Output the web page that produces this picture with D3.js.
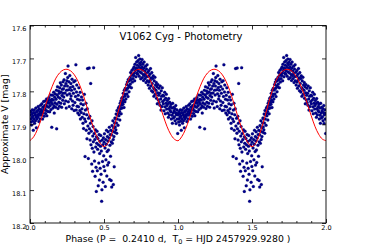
<!DOCTYPE html>
<html>
<head>
<meta charset="utf-8">
<script src="https://cdn.jsdelivr.net/npm/d3@7"></script>
<style>
html,body{margin:0;padding:0;background:#fff;}
svg{display:block;font-family:"DejaVu Sans",sans-serif;}
</style>
</head>
<body>
<svg id="chart" width="365" height="248"></svg>
<script>
// ---------- data ----------
const titleText = "V1062 Cyg - Photometry";
const yLabelText = "Approximate V [mag]";
const xMajorTicks = [0.0, 0.5, 1.0, 1.5, 2.0];
const xMinorTicks = [0.1,0.2,0.3,0.4,0.6,0.7,0.8,0.9,1.1,1.2,1.3,1.4,1.6,1.7,1.8,1.9];
const yMajorTicks = [17.6, 17.7, 17.8, 17.9, 18.0, 18.1, 18.2];
const phaseCopies = [0, 1];

// observed points, phase 0..1 : [phase, magnitude]
const observations = [
[0.002,17.872],[0.004,17.893],[0.006,17.861],[0.008,17.884],[0.010,17.902],[0.012,17.868],[0.014,17.879],[0.016,17.856],[0.018,17.891],[0.020,17.875],[0.022,17.918],[0.024,17.864],
[0.027,17.883],[0.029,17.857],[0.031,17.897],[0.033,17.871],[0.035,17.866],[0.037,17.889],[0.039,17.851],[0.041,17.878],[0.043,17.911],[0.045,17.862],[0.047,17.884],[0.049,17.873],
[0.051,17.858],[0.053,17.879],[0.055,17.846],[0.058,17.868],[0.060,17.892],[0.062,17.853],[0.064,17.873],[0.067,17.861],[0.069,17.884],[0.071,17.842],[0.073,17.866],
[0.076,17.855],[0.078,17.872],[0.080,17.838],[0.083,17.861],[0.085,17.884],[0.087,17.848],[0.089,17.866],[0.092,17.831],[0.094,17.857],[0.096,17.876],[0.098,17.844],
[0.101,17.852],[0.103,17.829],[0.105,17.867],[0.108,17.841],[0.110,17.858],[0.112,17.823],[0.114,17.874],[0.117,17.846],[0.119,17.835],[0.121,17.861],[0.123,17.828],
[0.126,17.848],[0.128,17.819],[0.130,17.836],[0.133,17.862],[0.135,17.827],[0.137,17.843],[0.140,17.811],[0.142,17.855],[0.144,17.832],[0.147,17.909],[0.148,17.824],
[0.151,17.838],[0.153,17.812],[0.155,17.851],[0.158,17.826],[0.160,17.803],[0.162,17.844],[0.164,17.866],[0.167,17.818],[0.169,17.835],[0.171,17.808],[0.173,17.848],
[0.176,17.824],[0.178,17.797],[0.180,17.914],[0.182,17.839],[0.184,17.811],[0.186,17.786],[0.189,17.852],[0.191,17.817],[0.193,17.799],[0.195,17.833],[0.198,17.806],[0.199,17.845],
[0.201,17.789],[0.203,17.821],[0.205,17.774],[0.208,17.836],[0.210,17.802],[0.212,17.781],[0.214,17.848],[0.216,17.813],[0.219,17.794],[0.221,17.827],[0.223,17.771],[0.224,17.806],
[0.226,17.792],[0.228,17.817],[0.230,17.765],[0.232,17.838],[0.234,17.784],[0.237,17.805],[0.239,17.746],[0.241,17.829],[0.243,17.776],[0.245,17.851],[0.247,17.797],[0.249,17.768],
[0.251,17.811],[0.253,17.784],[0.255,17.758],[0.257,17.723],[0.259,17.832],[0.261,17.795],[0.263,17.771],[0.265,17.846],[0.267,17.807],[0.269,17.752],[0.272,17.788],[0.274,17.823],
[0.276,17.776],[0.278,17.814],[0.280,17.797],[0.282,17.853],[0.284,17.763],[0.287,17.829],[0.289,17.785],[0.291,17.842],[0.293,17.806],[0.296,17.771],[0.298,17.858],
[0.301,17.793],[0.303,17.834],[0.305,17.768],[0.307,17.816],[0.310,17.719],[0.312,17.857],[0.314,17.802],[0.316,17.781],[0.318,17.845],[0.321,17.824],[0.323,17.866],
[0.326,17.812],[0.328,17.847],[0.330,17.789],[0.332,17.871],[0.335,17.826],[0.337,17.858],[0.339,17.803],[0.341,17.884],[0.344,17.838],[0.346,17.864],[0.348,17.817],
[0.351,17.853],[0.353,17.879],[0.355,17.826],[0.358,17.897],[0.360,17.841],[0.362,17.913],[0.364,17.868],[0.367,17.809],[0.369,17.884],[0.372,17.998],[0.374,17.857],
[0.376,17.892],[0.378,17.836],[0.380,17.918],[0.383,17.871],[0.385,17.944],[0.387,17.853],[0.389,17.731],[0.391,17.905],[0.394,18.004],[0.396,17.882],[0.398,17.927],
[0.400,17.729],[0.402,17.914],[0.404,17.876],[0.406,17.948],[0.408,17.897],[0.410,17.776],[0.412,17.962],[0.414,17.921],[0.417,18.021],[0.419,17.889],[0.421,17.973],[0.423,18.043],[0.424,17.936],
[0.426,17.907],[0.428,17.953],[0.430,17.728],[0.432,17.984],[0.434,17.928],[0.436,18.012],[0.438,17.946],[0.440,18.058],[0.442,17.917],[0.444,17.969],[0.446,18.031],[0.448,18.104],[0.449,17.938],
[0.451,17.958],[0.453,17.921],[0.455,18.041],[0.457,17.976],[0.459,17.943],[0.461,18.087],[0.463,17.962],[0.465,18.018],[0.467,17.931],[0.469,18.069],[0.471,17.989],[0.473,17.952],[0.474,18.034],
[0.476,17.967],[0.478,17.934],[0.480,18.052],[0.482,17.981],[0.484,18.134],[0.486,18.099],[0.488,17.948],[0.490,18.013],[0.492,17.962],[0.494,18.076],[0.496,17.941],[0.498,17.996],[0.499,18.028],
[0.501,17.955],[0.503,17.929],[0.505,18.041],[0.507,17.972],[0.509,18.089],[0.511,17.946],[0.513,18.008],[0.515,17.961],[0.517,17.918],[0.519,18.057],[0.521,17.983],[0.523,17.937],[0.524,18.024],
[0.526,17.951],[0.528,17.923],[0.530,17.978],[0.532,18.016],[0.534,17.942],[0.536,17.909],[0.538,18.068],[0.540,17.964],[0.542,17.931],[0.544,17.997],[0.546,17.918],[0.548,18.071],[0.549,17.953],
[0.551,17.932],[0.552,18.091],[0.554,17.904],[0.556,17.958],[0.558,17.921],[0.560,17.889],[0.562,17.946],[0.563,18.083],[0.565,17.911],[0.567,17.937],[0.569,18.029],[0.571,17.896],[0.573,17.924],[0.574,17.881],
[0.576,17.908],[0.578,17.883],[0.580,17.917],[0.582,17.869],[0.584,17.896],[0.586,17.927],[0.588,17.858],[0.590,17.884],[0.592,17.872],[0.595,17.903],[0.597,17.851],[0.599,17.866],
[0.601,17.874],[0.603,17.846],[0.605,17.861],[0.607,17.887],[0.609,17.836],[0.611,17.853],[0.614,17.829],[0.616,17.868],[0.618,17.842],[0.620,17.821],[0.622,17.851],[0.624,17.833],
[0.626,17.818],[0.628,17.839],[0.630,17.806],[0.633,17.827],[0.635,17.849],[0.637,17.797],[0.639,17.815],[0.641,17.832],[0.644,17.791],[0.646,17.809],[0.648,17.823],
[0.651,17.796],[0.653,17.779],[0.655,17.808],[0.658,17.772],[0.660,17.791],[0.662,17.816],[0.664,17.764],[0.667,17.783],[0.669,17.801],[0.671,17.768],[0.673,17.786],
[0.676,17.757],[0.678,17.778],[0.680,17.743],[0.683,17.764],[0.685,17.789],[0.687,17.751],[0.689,17.736],[0.692,17.772],[0.694,17.748],[0.696,17.761],[0.698,17.731],
[0.701,17.752],[0.703,17.726],[0.705,17.744],[0.707,17.768],[0.709,17.718],[0.711,17.737],[0.714,17.697],[0.716,17.756],[0.718,17.729],[0.720,17.711],[0.722,17.745],[0.724,17.733],
[0.726,17.721],[0.728,17.748],[0.730,17.706],[0.732,17.738],[0.734,17.691],[0.736,17.727],[0.738,17.754],[0.740,17.714],[0.742,17.702],[0.744,17.741],[0.746,17.719],[0.748,17.762],[0.749,17.731],
[0.751,17.712],[0.753,17.744],[0.755,17.726],[0.757,17.703],[0.759,17.758],[0.761,17.735],[0.763,17.718],[0.765,17.749],[0.767,17.767],[0.769,17.729],[0.771,17.711],[0.773,17.752],
[0.776,17.738],[0.778,17.761],[0.780,17.724],[0.782,17.746],[0.784,17.773],[0.787,17.732],[0.789,17.755],[0.791,17.719],[0.793,17.768],[0.796,17.742],[0.798,17.781],
[0.801,17.754],[0.803,17.737],[0.805,17.772],[0.807,17.791],[0.810,17.748],[0.812,17.766],[0.814,17.731],[0.816,17.784],[0.819,17.759],[0.821,17.798],[0.823,17.743],
[0.826,17.776],[0.828,17.761],[0.830,17.802],[0.833,17.753],[0.835,17.789],[0.837,17.815],[0.839,17.768],[0.842,17.794],[0.844,17.757],[0.846,17.809],[0.848,17.781],
[0.851,17.797],[0.853,17.773],[0.855,17.821],[0.858,17.786],[0.860,17.838],[0.862,17.804],[0.864,17.779],[0.867,17.826],[0.869,17.812],[0.871,17.791],[0.873,17.834],
[0.876,17.806],[0.878,17.842],[0.880,17.784],[0.883,17.823],[0.885,17.857],[0.887,17.798],[0.889,17.815],[0.892,17.846],[0.894,17.789],[0.896,17.831],[0.898,17.812],
[0.901,17.838],[0.903,17.814],[0.905,17.859],[0.908,17.826],[0.910,17.803],[0.912,17.847],[0.914,17.868],[0.917,17.821],[0.919,17.836],[0.921,17.809],[0.923,17.854],
[0.926,17.843],[0.928,17.828],[0.930,17.866],[0.933,17.837],[0.935,17.879],[0.937,17.822],[0.939,17.852],[0.942,17.871],[0.944,17.833],[0.946,17.858],[0.948,17.846],
[0.951,17.862],[0.953,17.839],[0.955,17.884],[0.958,17.851],[0.960,17.873],[0.962,17.897],[0.964,17.836],[0.967,17.866],[0.969,17.881],[0.971,17.848],[0.973,17.859],
[0.976,17.877],[0.978,17.852],[0.980,17.889],[0.983,17.864],[0.985,17.843],[0.987,17.898],[0.989,17.871],[0.992,17.856],[0.994,17.884],[0.996,17.867],[0.998,17.928]
];

// fitted model (red curve), phase 0..1
const modelPhase = [0.000,0.025,0.050,0.075,0.100,0.125,0.150,0.175,0.200,0.225,0.250,0.275,0.300,0.325,0.350,0.375,0.400,0.425,0.450,0.475,0.500,
                    0.525,0.550,0.575,0.600,0.625,0.650,0.675,0.700,0.725,0.750,0.775,0.800,0.825,0.850,0.875,0.900,0.925,0.950,0.975,1.000];
const modelMag   = [17.950,17.938,17.916,17.885,17.850,17.815,17.785,17.760,17.744,17.735,17.733,17.738,17.750,17.770,17.798,17.833,17.870,17.905,17.936,17.958,17.968,
                    17.958,17.932,17.896,17.855,17.815,17.781,17.756,17.741,17.734,17.734,17.741,17.756,17.778,17.807,17.840,17.874,17.906,17.930,17.945,17.950];

// ---------- chart ----------
const L = 30, R = 326, T = 25.5, B = 223;
const svg = d3.select("#chart");
const x = d3.scaleLinear().domain([0, 2]).range([L, R]);
const y = d3.scaleLinear().domain([17.6, 18.2]).range([T, B]);

svg.append("defs").append("clipPath").attr("id", "clip")
  .append("rect").attr("x", L).attr("y", T).attr("width", R - L).attr("height", B - T);

const plot = svg.append("g").attr("clip-path", "url(#clip)");

const pts = [];
phaseCopies.forEach(c => observations.forEach(d => pts.push([d[0] + c, d[1]])));
plot.append("g").selectAll("circle").data(pts).join("circle")
  .attr("cx", d => x(d[0])).attr("cy", d => y(d[1]))
  .attr("r", 1.5).attr("fill", "#00008b").attr("stroke", "#000050").attr("stroke-width", 0.2);

const model = [];
phaseCopies.forEach(c => modelPhase.forEach((p, i) => {
  if (c > 0 && i === 0) return;
  model.push([p + c, modelMag[i]]);
}));
plot.append("path").datum(model)
  .attr("fill", "none").attr("stroke", "#ff0000").attr("stroke-width", 1)
  .attr("d", d3.line().x(d => x(d[0])).y(d => y(d[1])).curve(d3.curveCatmullRom));

// axes
function styleAxis(g) {
  g.select(".domain").remove();
  g.selectAll("line").attr("stroke", "#000").attr("stroke-width", 0.8);
  g.selectAll("text").attr("font-size", 6.5).attr("fill", "#000").attr("font-family", "DejaVu Sans, sans-serif");
}
svg.append("g").attr("transform", `translate(0,${B})`)
  .call(d3.axisBottom(x).tickValues(xMajorTicks).tickSizeInner(-4).tickSizeOuter(0).tickPadding(2.2).tickFormat(d3.format(".1f")))
  .call(styleAxis);
svg.append("g").attr("transform", `translate(0,${B})`)
  .call(d3.axisBottom(x).tickValues(xMinorTicks).tickSizeInner(-2).tickSizeOuter(0).tickFormat(""))
  .call(styleAxis);
svg.append("g").attr("transform", `translate(0,${T})`)
  .call(d3.axisTop(x).tickValues(xMajorTicks).tickSizeInner(-4).tickSizeOuter(0).tickFormat(""))
  .call(styleAxis);
svg.append("g").attr("transform", `translate(0,${T})`)
  .call(d3.axisTop(x).tickValues(xMinorTicks).tickSizeInner(-2).tickSizeOuter(0).tickFormat(""))
  .call(styleAxis);
const yl = svg.append("g").attr("transform", `translate(${L},0)`)
  .call(d3.axisLeft(y).tickValues(yMajorTicks).tickSizeInner(-4).tickSizeOuter(0).tickPadding(3.5).tickFormat(d3.format(".1f")))
  .call(styleAxis);
yl.selectAll("text").attr("dy", "0.8em");
svg.append("g").attr("transform", `translate(${R},0)`)
  .call(d3.axisRight(y).tickValues(yMajorTicks).tickSizeInner(-4).tickSizeOuter(0).tickFormat(""))
  .call(styleAxis);

svg.append("rect").attr("x", L).attr("y", T).attr("width", R - L).attr("height", B - T)
  .attr("fill", "none").attr("stroke", "#000").attr("stroke-width", 0.9);

// title
svg.append("text").attr("x", 181).attr("y", 40).attr("text-anchor", "middle")
  .attr("font-size", 10).attr("fill", "#000").text(titleText);

// x label
const xl = svg.append("text").attr("x", 178).attr("y", 242).attr("text-anchor", "middle")
  .attr("font-size", 9.3).attr("fill", "#000").style("white-space", "pre");
xl.append("tspan").text("Phase (P =  0.2410 d,  T");
xl.append("tspan").attr("font-size", 6.5).attr("dy", 2).text("0");
xl.append("tspan").attr("dy", -2).text(" = HJD 2457929.9280 )");

// y label
svg.append("text").attr("transform", `translate(7.5,${(T + B) / 2}) rotate(-90)`)
  .attr("text-anchor", "middle").attr("font-size", 9.3).attr("fill", "#000").text(yLabelText);
</script>
</body>
</html>
